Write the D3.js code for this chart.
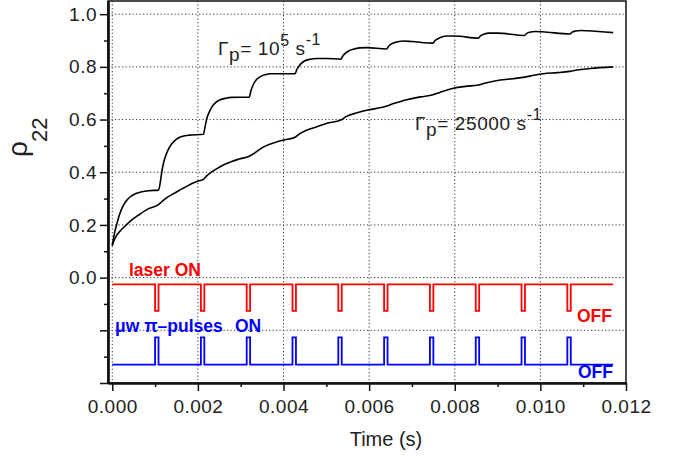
<!DOCTYPE html>
<html>
<head>
<meta charset="utf-8">
<script src="https://cdn.jsdelivr.net/npm/d3@7"></script>
<style>
  body { margin: 0; background: #fff; }
  svg { display: block; font-family: "Liberation Sans", Arial, Helvetica, sans-serif; }
</style>
</head>
<body>
<script>
// rho_22 for Gamma_p = 1e5 s^-1 (time in s)
const fastT = [0, 0.00003, 0.00006, 0.00011, 0.00016, 0.00023, 0.00032, 0.00042, 0.00055, 0.00069, 0.00085, 0.00108,
  0.00112, 0.00116, 0.0012, 0.00124, 0.00131, 0.00139, 0.0015, 0.00163, 0.0018, 0.00213,
  0.00217, 0.00221, 0.00227, 0.00233, 0.00242, 0.00252, 0.00265, 0.00279, 0.0032,
  0.00324, 0.0033, 0.00337, 0.00346, 0.00357, 0.00369, 0.00427,
  0.00431, 0.00435, 0.00442, 0.0045, 0.00462, 0.00478, 0.005, 0.00534,
  0.00538, 0.00544, 0.00552, 0.00563, 0.00578, 0.00594, 0.00641,
  0.00645, 0.00651, 0.00659, 0.0068, 0.007, 0.00749,
  0.00754, 0.0076, 0.00768, 0.00781, 0.008, 0.00855,
  0.0086, 0.00868, 0.0088, 0.009, 0.00963,
  0.00968, 0.00975, 0.00988, 0.01005, 0.01069,
  0.01074, 0.01082, 0.01095, 0.0111, 0.0117]
const fastV = [0.122, 0.15, 0.175, 0.206, 0.235, 0.265, 0.29, 0.307, 0.319, 0.326, 0.33, 0.332,
  0.36, 0.405, 0.437, 0.459, 0.487, 0.508, 0.526, 0.536, 0.541, 0.544,
  0.575, 0.605, 0.63, 0.649, 0.665, 0.675, 0.681, 0.684, 0.685,
  0.71, 0.735, 0.752, 0.763, 0.77, 0.774, 0.774,
  0.79, 0.8, 0.814, 0.823, 0.829, 0.832, 0.832, 0.829,
  0.84, 0.851, 0.86, 0.867, 0.872, 0.873, 0.868,
  0.877, 0.886, 0.892, 0.898, 0.896, 0.89,
  0.9, 0.906, 0.912, 0.917, 0.917, 0.909,
  0.918, 0.924, 0.928, 0.928, 0.919,
  0.927, 0.931, 0.934, 0.933, 0.925,
  0.932, 0.936, 0.938, 0.937, 0.93]

// rho_22 for Gamma_p = 25000 s^-1
const slowT = [0, 0.00005, 0.0001, 0.0002, 0.0003, 0.00045, 0.00061, 0.00085, 0.00107,
  0.00115, 0.00125, 0.00139, 0.00155, 0.0017, 0.00185, 0.00201, 0.00213,
  0.0022, 0.00233, 0.00248, 0.00263, 0.00279, 0.00296, 0.0032,
  0.0033, 0.00345, 0.00361, 0.0038, 0.004, 0.00427,
  0.00437, 0.00455, 0.00478, 0.005, 0.00534,
  0.00545, 0.0057, 0.00594, 0.00641,
  0.00655, 0.0068, 0.0072, 0.00749,
  0.00765, 0.00797, 0.00825, 0.00855,
  0.0087, 0.00906, 0.00935, 0.00964,
  0.00985, 0.01007, 0.0104, 0.01069,
  0.0109, 0.01116, 0.0117]
const slowV = [0.122, 0.145, 0.16, 0.18, 0.196, 0.218, 0.237, 0.262, 0.276,
  0.287, 0.301, 0.315, 0.33, 0.343, 0.356, 0.367, 0.373,
  0.385, 0.402, 0.417, 0.43, 0.441, 0.45, 0.461,
  0.47, 0.488, 0.502, 0.513, 0.522, 0.533,
  0.545, 0.56, 0.573, 0.585, 0.598,
  0.61, 0.625, 0.635, 0.651,
  0.66, 0.672, 0.686, 0.694,
  0.703, 0.719, 0.726, 0.731,
  0.738, 0.75, 0.755, 0.761,
  0.768, 0.774, 0.778, 0.783,
  0.789, 0.794, 0.8]

// pulse sequence (start times of laser-off / microwave pi-pulses)
const pulseStart = [0.001, 0.00207, 0.00314, 0.00421, 0.00528, 0.00635, 0.00742, 0.00849, 0.00956, 0.01063]
const pulseWidth = 0.00008
const seqEnd = 0.0117
const laserLevels = [-0.026, -0.126]   // on, off
const mwLevels = [-0.33, -0.227]       // off, on

const xMajor = [0, 0.002, 0.004, 0.006, 0.008, 0.010, 0.012]
const xMinor = [0.001, 0.003, 0.005, 0.007, 0.009, 0.011]
const yMajor = [-0.4, -0.2, 0, 0.2, 0.4, 0.6, 0.8, 1.0]
const yMinor = [-0.3, -0.1, 0.1, 0.3, 0.5, 0.7, 0.9]
const yGrid = [-0.2, 0, 0.2, 0.4, 0.6, 0.8, 1.0]

const w = 680, h = 457
const pLeft = 108, pRight = 626, pTop = 1, pBottom = 383

const svg = d3.select("body").append("svg")
  .attr("width", w)
  .attr("height", h)

const xScale = d3.scaleLinear().domain([-0.0001, 0.012]).range([pLeft, pRight])
const yScale = d3.scaleLinear().domain([-0.4, 1.05]).range([pBottom, pTop])

// grid
const grid = svg.append("g")
  .attr("stroke", "#333")
  .attr("stroke-width", 1)
  .attr("stroke-dasharray", "1.2,2.3")
grid.selectAll(".vg")
  .data(xMajor.filter(d => d < 0.012))
  .enter().append("line")
  .attr("x1", d => xScale(d)).attr("x2", d => xScale(d))
  .attr("y1", pTop).attr("y2", pBottom)
grid.selectAll(".hg")
  .data(yGrid)
  .enter().append("line")
  .attr("x1", pLeft).attr("x2", pRight)
  .attr("y1", d => yScale(d)).attr("y2", d => yScale(d))

// frame
svg.append("rect")
  .attr("x", pLeft).attr("y", pTop)
  .attr("width", pRight - pLeft).attr("height", pBottom - pTop)
  .attr("fill", "none")
  .attr("stroke", "#111")
  .attr("stroke-width", 1.5)

// axes
const xAxis = d3.axisBottom(xScale).tickValues(xMajor).tickSize(8).tickSizeOuter(0)
  .tickPadding(9).tickFormat(d3.format(".3f"))
const xAxisMinor = d3.axisBottom(xScale).tickValues(xMinor).tickSize(4).tickSizeOuter(0).tickFormat("")
const yAxis = d3.axisLeft(yScale).tickValues(yMajor).tickSize(8).tickSizeOuter(0)
  .tickPadding(3).tickFormat(d => d >= -1e-9 ? d3.format(".1f")(Math.abs(d)) : "")
const yAxisMinor = d3.axisLeft(yScale).tickValues(yMinor).tickSize(4).tickSizeOuter(0).tickFormat("")

svg.append("g").attr("transform", "translate(0," + pBottom + ")").call(xAxis)
svg.append("g").attr("transform", "translate(0," + pBottom + ")").call(xAxisMinor)
svg.append("g").attr("transform", "translate(" + pLeft + ",0)").call(yAxis)
svg.append("g").attr("transform", "translate(" + pLeft + ",0)").call(yAxisMinor)

svg.selectAll(".domain").attr("stroke", "#111").attr("stroke-width", 2.2)
svg.selectAll(".tick line").attr("stroke", "#111").attr("stroke-width", 1.5)
svg.selectAll(".tick text")
  .attr("fill", "#222")
  .style("font-size", "19px")
  .style("letter-spacing", "0.5px")
  .style("font-family", "'Liberation Sans', Arial, sans-serif")

// curves
const line = d3.line()
  .x(d => xScale(d[0]))
  .y(d => yScale(d[1]))
  .curve(d3.curveMonotoneX)

svg.append("path")
  .datum(d3.zip(fastT, fastV))
  .attr("d", line)
  .attr("fill", "none")
  .attr("stroke", "#000")
  .attr("stroke-width", 1.6)

svg.append("path")
  .datum(d3.zip(slowT, slowV))
  .attr("d", line)
  .attr("fill", "none")
  .attr("stroke", "#000")
  .attr("stroke-width", 1.6)

// pulse trains
function pulseTrain(base, level) {
  const pts = [[0, base]]
  pulseStart.forEach(t => {
    pts.push([t, base], [t, level], [t + pulseWidth, level], [t + pulseWidth, base])
  })
  pts.push([seqEnd, base])
  return pts
}
const stepLine = d3.line().x(d => xScale(d[0])).y(d => yScale(d[1]))

svg.append("path")
  .datum(pulseTrain(laserLevels[0], laserLevels[1]))
  .attr("d", stepLine)
  .attr("fill", "none")
  .attr("stroke", "#ff0000")
  .attr("stroke-width", 1.8)

svg.append("path")
  .datum(pulseTrain(mwLevels[0], mwLevels[1]))
  .attr("d", stepLine)
  .attr("fill", "none")
  .attr("stroke", "#0000ff")
  .attr("stroke-width", 1.8)

// labels
function label(x, y, str, color, size) {
  return svg.append("text")
    .attr("x", x).attr("y", y)
    .attr("fill", color)
    .style("font-size", size + "px")
    .style("font-weight", "bold")
    .text(str)
}
label(129, 276, "laser ON", "#ff0000", 17.5)
label(577, 322, "OFF", "#ff0000", 17.5)
label(115, 332, "\u03bcw \u03c0\u2013pulses", "#0000ff", 17.5)
label(235, 332, "ON", "#0000ff", 17.5)
label(578, 378, "OFF", "#0000ff", 17.5)

function rateLabel(x, y, value) {
  const t = svg.append("text")
    .attr("x", x).attr("y", y)
    .attr("fill", "#222")
    .style("font-size", "19px")
    .style("letter-spacing", "0.6px")
  t.append("tspan").text("\u0393")
  t.append("tspan").attr("dy", 6).text("p")
  t.append("tspan").attr("dy", -6).text("= " + value[0])
  if (value[1]) t.append("tspan").attr("dy", -9).style("font-size", "16px").text(value[1])
  t.append("tspan").attr("dy", value[1] ? 9 : 0).text(" s")
  t.append("tspan").attr("dy", -10).style("font-size", "16px").text("-1")
}
rateLabel(218, 55, ["10", "5"])
rateLabel(415, 130, ["25000", ""])

// axis titles
svg.append("text")
  .attr("x", 386).attr("y", 446)
  .attr("text-anchor", "middle")
  .attr("fill", "#222")
  .style("font-size", "20px")
  .text("Time (s)")

const yt = svg.append("text")
  .attr("transform", "translate(27,157) rotate(-90)")
  .attr("fill", "#222")
yt.append("tspan").style("font-size", "28px").text("\u03c1")
yt.append("tspan").attr("dy", 20).attr("dx", -1).style("font-size", "22px").text("22")
</script>
</body>
</html>
